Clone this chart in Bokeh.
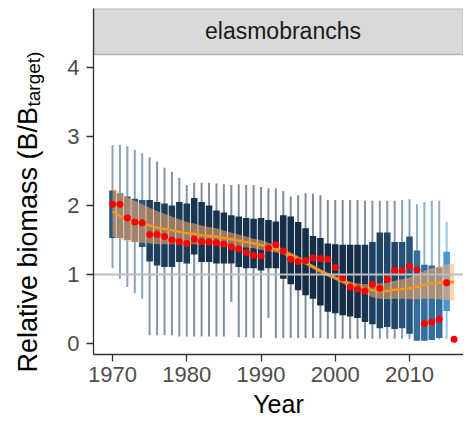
import math
from bokeh.plotting import figure
from bokeh.models import ColumnDataSource, Range1d, FixedTicker, Span, BoxAnnotation, Label
from bokeh.embed import file_html
from bokeh.resources import INLINE

# ---------------- data ----------------
panel_title = "elasmobranchs"
x_label = "Year"
y_label_main = "Relative biomass (B/B"
y_label_sub = "target)"
x_ticks = [1970, 1980, 1990, 2000, 2010]
y_ticks = [0, 1, 2, 3, 4]

years = list(range(1970, 2016))
whisker_low = [1.09, 0.94, 0.82, 0.73, 0.65, 0.12, 0.12, 0.12, 0.12, 0.10,
               0.10, 0.10, 0.10, 0.10, 0.10, 0.10, 0.60, 0.09, 0.09, 0.08,
               0.08, 0.37, 0.08, 0.08, 0.08, 0.08, 0.08, 0.08, 0.08, 0.07,
               0.07, 0.07, 0.07, 0.07, 0.07, 0.07, 0.07, 0.07, 0.07, 0.07,
               0.06, 0.04, 0.04, 0.05, 0.06, 0.07]
box_low = [1.53, 1.53, 1.50, 1.47, 1.40, 1.19, 1.13, 1.11, 1.11, 1.18,
           1.16, 1.29, 1.18, 1.18, 1.16, 1.16, 1.16, 1.11, 1.09, 1.09,
           1.06, 1.09, 1.09, 0.94, 0.86, 0.77, 0.70, 0.65, 0.55, 0.46,
           0.44, 0.41, 0.39, 0.37, 0.31, 0.28, 0.22, 0.24, 0.21, 0.22,
           0.14, 0.04, 0.04, 0.05, 0.08, 0.47]
box_high = [2.22, 2.18, 2.13, 2.10, 2.08, 2.08, 2.05, 2.03, 2.00, 2.05,
            2.03, 2.11, 2.05, 2.00, 1.93, 1.90, 1.86, 1.84, 1.82, 1.81,
            1.82, 1.79, 1.77, 1.86, 1.84, 1.76, 1.67, 1.56, 1.53, 1.45,
            1.44, 1.43, 1.43, 1.43, 1.43, 1.47, 1.61, 1.61, 1.47, 1.47,
            1.55, 1.35, 1.14, 1.13, 1.10, 1.33]
whisker_high = [2.88, 2.88, 2.86, 2.81, 2.76, 2.70, 2.64, 2.55, 2.49, 2.40,
                2.30, 2.33, 2.33, 2.33, 2.32, 2.31, 2.30, 2.31, 2.30, 2.30,
                2.27, 2.25, 2.25, 2.21, 2.13, 2.15, 2.18, 2.17, 2.15, 2.08,
                2.08, 2.08, 2.08, 2.08, 2.07, 2.07, 2.07, 2.07, 2.07, 2.08,
                2.09, 2.02, 2.05, 2.07, 2.07, 1.76]
# position of each box on the continuous colour scale (0 = dark, 1 = light)
box_shade = [0.33, 0.33, 0.33, 0.33, 0.33, 0.15, 0.15, 0.15, 0.12, 0.12,
             0.12, 0.06, 0.06, 0.06, 0.06, 0.06, 0.06, 0.06, 0.06, 0.06,
             0.06, 0.02, 0.02, 0.02, 0.02, 0.02, 0.02, 0.02, 0.02, 0.02,
             0.02, 0.02, 0.02, 0.02, 0.08, 0.16, 0.20, 0.20, 0.20, 0.30,
             0.30, 0.50, 0.50, 0.50, 0.50, 0.80]

point_years = list(range(1970, 2017))
point_values = [2.02, 2.02, 1.82, 1.76, 1.75, 1.58, 1.58, 1.55, 1.50, 1.48,
                1.45, 1.51, 1.48, 1.47, 1.46, 1.44, 1.40, 1.37, 1.32, 1.28,
                1.27, 1.38, 1.43, 1.34, 1.22, 1.19, 1.20, 1.24, 1.23, 1.22,
                1.10, 0.95, 0.82, 0.79, 0.76, 0.86, 0.80, 0.93, 1.06, 1.05,
                1.12, 1.07, 0.29, 0.31, 0.35, 0.88, 0.06]

smooth_years = list(range(1970, 2017))
smooth_mid = [1.91, 1.85, 1.80, 1.77, 1.74, 1.71, 1.68, 1.66, 1.64, 1.62,
              1.60, 1.59, 1.57, 1.56, 1.55, 1.53, 1.51, 1.49, 1.47, 1.45,
              1.43, 1.40, 1.37, 1.33, 1.28, 1.23, 1.17, 1.11, 1.05, 1.00,
              0.95, 0.90, 0.86, 0.82, 0.79, 0.77, 0.76, 0.76, 0.78, 0.79,
              0.80, 0.82, 0.85, 0.87, 0.88, 0.89, 0.89]
smooth_low = [1.55, 1.51, 1.48, 1.47, 1.46, 1.45, 1.44, 1.44, 1.44, 1.44,
              1.44, 1.44, 1.43, 1.43, 1.43, 1.42, 1.41, 1.40, 1.39, 1.38,
              1.36, 1.34, 1.32, 1.29, 1.24, 1.20, 1.14, 1.08, 1.02, 0.97,
              0.92, 0.87, 0.82, 0.77, 0.72, 0.67, 0.65, 0.64, 0.65, 0.65,
              0.64, 0.64, 0.65, 0.65, 0.64, 0.63, 0.62]
smooth_high = [2.27, 2.19, 2.12, 2.07, 2.02, 1.97, 1.92, 1.88, 1.84, 1.80,
               1.76, 1.74, 1.71, 1.69, 1.67, 1.64, 1.61, 1.58, 1.55, 1.52,
               1.50, 1.46, 1.42, 1.37, 1.32, 1.27, 1.20, 1.14, 1.08, 1.03,
               0.98, 0.93, 0.90, 0.87, 0.86, 0.87, 0.87, 0.88, 0.91, 0.93,
               0.96, 1.00, 1.05, 1.09, 1.12, 1.15, 1.16]
reference_level = 1

# ---------------- styling helpers ----------------
def shade_color(t, lo=(0x13, 0x2B, 0x43), hi=(0x56, 0xB1, 0xF7)):
    r = round(lo[0] + (hi[0] - lo[0]) * t)
    g = round(lo[1] + (hi[1] - lo[1]) * t)
    b = round(lo[2] + (hi[2] - lo[2]) * t)
    return "#%02x%02x%02x" % (r, g, b)

box_src = ColumnDataSource(dict(
    year=years, wlo=whisker_low, q1=box_low, q3=box_high, whi=whisker_high,
    color=[shade_color(t) for t in box_shade]))
pt_src = ColumnDataSource(dict(year=point_years, val=point_values))
sm_src = ColumnDataSource(dict(year=smooth_years, mid=smooth_mid, lo=smooth_low, hi=smooth_high))

FONT = "Liberation Sans"
H = 425

p = figure(width=463, height=H, output_backend="svg", toolbar_location=None,
           x_range=Range1d(1967.44, 2017.27), y_range=Range1d(-0.16, 4.858),
           min_border_left=93, min_border_right=0, min_border_top=8,
           min_border_bottom=H - 354)
p.outline_line_color = None
p.xgrid.visible = False
p.ygrid.visible = False
p.background_fill_color = "white"
p.border_fill_color = "white"

# strip
strip = BoxAnnotation(bottom=4.19, fill_color="#D9D9D9", fill_alpha=1,
                      line_color="#333333", line_width=1.5, level="underlay")
p.add_layout(strip)

# whiskers and boxes
p.segment(x0="year", y0="wlo", x1="year", y1="whi", source=box_src,
          line_color="color", line_alpha=0.55, line_width=2)
p.vbar(x="year", width=0.88, bottom="q1", top="q3", source=box_src,
       fill_color="color", line_color=None)

# ribbon
p.varea(x="year", y1="lo", y2="hi", source=sm_src, fill_color="#FDAE6B", fill_alpha=0.55)

# reference line
ref = Span(location=reference_level, dimension="width", line_color="#BEBEBE",
           line_width=2, level="glyph")
p.add_layout(ref)

# smooth line and points
p.line(x="year", y="mid", source=sm_src, line_color="#F7941D", line_width=2.5)
p.scatter(x="year", y="val", source=pt_src, size=7, fill_color="#FF0000", line_color=None)

# axes
for ax in (p.xaxis[0], p.yaxis[0]):
    ax.axis_line_color = "#333333"
    ax.axis_line_width = 1.3
    ax.major_tick_line_color = "#333333"
    ax.major_tick_line_width = 1.3
    ax.major_tick_in = 0
    ax.major_tick_out = 7
    ax.minor_tick_line_color = None
    ax.major_label_text_font = FONT
    ax.major_label_text_font_size = "22px"
    ax.major_label_text_color = "#4D4D4D"

p.xaxis.ticker = FixedTicker(ticks=x_ticks)
p.yaxis.ticker = FixedTicker(ticks=y_ticks)
p.xaxis.major_label_standoff = 5
p.yaxis.major_label_standoff = 7
p.xaxis.axis_label = x_label
p.xaxis.axis_label_text_font = FONT
p.xaxis.axis_label_text_font_size = "25px"
p.xaxis.axis_label_text_font_style = "normal"
p.xaxis.axis_label_text_color = "black"
p.xaxis.axis_label_standoff = 5

# strip title
p.add_layout(Label(x=189.5, y=4.53, x_units="screen", y_units="data", text=panel_title,
                   text_align="center", text_baseline="middle", text_font=FONT,
                   text_font_size="23px", text_color="#1A1A1A"))

# y-axis title with subscript, placed in left side panels (not clipped to the frame)
p.add_layout(Label(x=-7, y=-18, x_units="screen", y_units="screen", text=y_label_main,
                   angle=math.pi / 2, text_align="left", text_baseline="alphabetic",
                   text_font=FONT, text_font_size="27px", text_color="black"), "left")
p.add_layout(Label(x=20, y=248, x_units="screen", y_units="screen", text=y_label_sub,
                   angle=math.pi / 2, text_align="left", text_baseline="alphabetic",
                   text_font=FONT, text_font_size="19px", text_color="black"), "left")

open("out.html", "w").write(file_html(p, INLINE))
